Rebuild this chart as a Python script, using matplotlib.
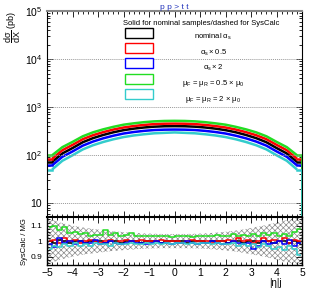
import matplotlib
matplotlib.use("Agg")
import matplotlib.pyplot as plt
from matplotlib.patches import Rectangle
from matplotlib.ticker import FixedLocator, MultipleLocator, NullFormatter
import numpy as np

plt.rcParams["font.family"] = ["Liberation Sans", "DejaVu Sans"]
plt.rcParams["mathtext.default"] = "regular"
plt.rcParams["hatch.linewidth"] = 0.5

# main panel: d sigma / d eta, bins of width 0.4
eta_main = [-4.8, -4.4, -4.0, -3.6, -3.2, -2.8, -2.4, -2.0, -1.6, -1.2, -0.8, -0.4, 0.0,
            0.4, 0.8, 1.2, 1.6, 2.0, 2.4, 2.8, 3.2, 3.6, 4.0, 4.4, 4.8]
nominal = [72, 108, 140, 185, 225, 262, 298, 330, 355, 375, 390, 398, 400,
           398, 390, 375, 355, 330, 298, 262, 225, 185, 140, 108, 72]
as_half = [84, 126, 163, 214, 259, 300, 340, 375, 402, 424, 441, 450, 452,
           450, 441, 424, 402, 375, 340, 300, 259, 214, 163, 126, 84]
as_two = [61, 92, 119, 157, 191, 223, 253, 281, 302, 319, 332, 338, 340,
          338, 332, 319, 302, 281, 253, 223, 191, 157, 119, 92, 61]
mu_half = [99, 146, 188, 246, 297, 343, 387, 429, 458, 484, 503, 513, 516,
           513, 503, 484, 458, 429, 387, 343, 297, 246, 188, 146, 99]
mu_two = [50, 76, 99, 131, 160, 187, 213, 237, 256, 271, 284, 290, 296,
          290, 284, 271, 256, 237, 213, 187, 160, 131, 99, 76, 50]

# ratio panel: SysCalc / MG, bins of width 0.2
eta_ratio = [round(-4.9 + 0.2 * i, 1) for i in range(50)]
r_nominal = [1.00, 0.99, 1.01, 1.00, 0.99, 1.00, 1.00, 0.99, 1.00, 1.00,
             1.00, 0.99, 1.00, 1.00, 0.99, 1.00, 1.00, 1.00, 0.99, 1.00,
             1.00, 1.00, 0.99, 1.00, 1.00, 1.00, 1.00, 0.99, 1.00, 1.00,
             1.00, 0.99, 1.00, 1.00, 1.00, 0.99, 1.00, 1.00, 0.99, 1.00,
             1.00, 0.99, 1.00, 1.00, 0.99, 1.00, 1.00, 0.99, 1.00, 0.99]
r_as_half = [1.00, 1.01, 0.99, 1.02, 1.00, 1.01, 0.99, 1.00, 1.01, 1.00,
             0.99, 1.00, 1.01, 0.99, 1.00, 1.01, 1.00, 1.00, 1.01, 1.00,
             1.00, 1.00, 1.01, 1.00, 1.00, 1.00, 0.99, 1.00, 1.01, 1.00,
             1.00, 1.00, 0.99, 1.00, 1.00, 1.01, 1.00, 1.02, 1.00, 1.01,
             0.99, 1.00, 1.02, 1.00, 1.01, 1.00, 1.02, 0.99, 1.01, 1.00]
r_as_two = [0.98, 0.96, 1.02, 0.99, 1.00, 0.98, 1.00, 0.99, 0.99, 1.01,
            0.98, 0.99, 1.00, 0.99, 0.98, 0.99, 1.00, 0.99, 0.99, 0.98,
            0.99, 1.00, 0.99, 0.99, 0.98, 0.99, 0.99, 1.00, 0.99, 0.98,
            0.99, 0.99, 1.00, 0.99, 0.98, 0.99, 1.00, 0.99, 0.98, 0.99,
            0.95, 0.97, 1.00, 0.98, 0.99, 1.00, 0.98, 1.01, 0.97, 0.99]
r_mu_half = [1.09, 1.10, 1.07, 1.09, 1.05, 1.06, 1.045, 1.05, 1.035, 1.04,
             1.04, 1.07, 1.04, 1.05, 1.035, 1.04, 1.05, 1.035, 1.03, 1.035,
             1.03, 1.03, 1.035, 1.03, 1.025, 1.03, 1.035, 1.03, 1.025, 1.035,
             1.03, 1.03, 1.035, 1.04, 1.03, 1.035, 1.045, 1.035, 1.04, 1.035,
             1.045, 1.035, 1.05, 1.04, 1.05, 1.035, 1.045, 1.035, 1.06, 1.075]
r_mu_two = [0.95, 0.97, 0.96, 0.98, 0.97, 0.99, 0.97, 0.98, 0.97, 0.99,
            0.98, 0.98, 0.97, 0.99, 0.98, 0.98, 0.99, 0.98, 0.98, 0.99,
            0.98, 0.99, 0.98, 0.99, 0.98, 0.99, 0.99, 0.98, 0.99, 0.98,
            0.99, 0.99, 0.98, 0.99, 0.98, 0.98, 0.99, 0.97, 0.98, 0.97,
            0.98, 0.96, 0.98, 0.97, 0.95, 0.96, 0.94, 0.97, 0.95, 0.91]

# statistical band half width around 1
eta_band = [-5.0, -4.5, -4.0, -3.5, -3.0, -2.5, -2.0, -1.5, -1.0, -0.5, 0.0,
            0.5, 1.0, 1.5, 2.0, 2.5, 3.0, 3.5, 4.0, 4.5, 5.0]
band_err = [0.15, 0.12, 0.10, 0.085, 0.075, 0.065, 0.058, 0.052, 0.048, 0.046, 0.046,
            0.046, 0.048, 0.053, 0.06, 0.07, 0.085, 0.10, 0.12, 0.14, 0.16]

labels = [r"nominal $\alpha_s$", r"$\alpha_s \times 0.5$", r"$\alpha_s \times 2$",
          r"$\mu_F$ = $\mu_R$ = 0.5 $\times$ $\mu_0$", r"$\mu_F$ = $\mu_R$ = 2 $\times$ $\mu_0$"]
colors = ["black", "red", "blue", "#22dd22", "#33cccc"]
main_series = [nominal, as_half, as_two, mu_half, mu_two]
ratio_series = [r_nominal, r_as_half, r_as_two, r_mu_half, r_mu_two]
ratio_order = [0, 3, 1, 2, 4]

ytick_vals = [10, 100, 1000, 10000, 100000]
ytick_labels = ["10", "$10^2$", "$10^3$", "$10^4$", "$10^5$"]

fig = plt.figure(figsize=(3.18, 2.91), dpi=100)
ax = fig.add_axes([0.148, 0.254, 0.802, 0.708])
rax = fig.add_axes([0.148, 0.089, 0.802, 0.165])

ymin = 5.1
for vals, c in zip(main_series, colors):
    ax.plot(eta_main, vals, color=c, lw=1.8, solid_capstyle="butt")
    ax.plot([-5, eta_main[0]], [vals[0], vals[0]], color=c, lw=1.8)
    ax.plot([eta_main[-1], 5], [vals[-1], vals[-1]], color=c, lw=1.8)
    ax.vlines([-5, 5], ymin, [vals[0], vals[-1]], color=c, lw=1.2)

ax.set_yscale("log")
ax.set_xlim(-5, 5)
ax.set_ylim(ymin, 1e5)
for v in ytick_vals[:-1]:
    ax.axhline(v, color="#999999", lw=0.7, ls=(0, (1, 1)))
ax.yaxis.set_major_locator(FixedLocator(ytick_vals))
ax.set_yticklabels(ytick_labels, fontsize=7.5)
ax.xaxis.set_major_locator(MultipleLocator(1))
ax.xaxis.set_minor_locator(MultipleLocator(0.2))
ax.xaxis.set_major_formatter(NullFormatter())
ax.tick_params(which="both", direction="in", top=True, right=True, width=0.6)
ax.tick_params(which="major", length=4)
ax.tick_params(which="minor", length=2)
ax.spines["top"].set_color("#888888")
ax.spines["top"].set_linewidth(1.5)
ax.set_ylabel(r"$\dfrac{d\sigma}{dX}$ (pb)", loc="top", fontsize=6.5, labelpad=1)

ax.set_title("p p > t t", color="#2233bb", fontsize=6, pad=1.5)

# legend, drawn by hand in axes fraction
ax.text(0.604, 0.942, "Solid for nominal samples/dashed for SysCalc",
        transform=ax.transAxes, ha="center", va="center", fontsize=5.5)
box_y = [0.893, 0.820, 0.748, 0.670, 0.597]
text_y = [0.874, 0.796, 0.723, 0.650, 0.573]
for by, ty, c, lab in zip(box_y, text_y, colors, labels):
    ax.add_patch(Rectangle((0.306, by - 0.024), 0.110, 0.048, transform=ax.transAxes,
                           facecolor="white", edgecolor=c, lw=1.0, zorder=5))
    ax.text(0.651, ty, lab, transform=ax.transAxes, ha="center", va="center", fontsize=5.5)

# ratio panel
lo = [1 - e for e in band_err]
hi = [1 + e for e in band_err]
rax.fill_between(eta_band, lo, hi, facecolor="white", edgecolor="#8a8a8a",
                 hatch="xxxxxx", lw=0)
for i in ratio_order:
    rax.step(eta_ratio, ratio_series[i], where="mid", color=colors[i], lw=1.1)
rax.set_xlim(-5, 5)
rax.set_ylim(0.845, 1.155)
rax.set_yticks([0.9, 1.0, 1.1])
rax.set_yticklabels(["0.9", "1", "1.1"], fontsize=6)
rax.xaxis.set_major_locator(MultipleLocator(1))
rax.xaxis.set_minor_locator(MultipleLocator(0.2))
rax.yaxis.set_minor_locator(MultipleLocator(0.02))
rax.tick_params(axis="x", labelsize=7.5, pad=2)
rax.tick_params(which="both", direction="in", top=True, right=True, width=0.6)
rax.tick_params(which="major", length=4)
rax.tick_params(which="minor", length=2)
for s in rax.spines.values():
    s.set_linewidth(1.0)
rax.spines["top"].set_linewidth(1.5)
rax.set_ylabel("SysCalc / MG", fontsize=5.5, labelpad=2)
fig.text(282 / 318, 1 - 283 / 291, "|η|j", ha="right", va="center", fontsize=7)

fig.savefig("out.png", dpi=100)
